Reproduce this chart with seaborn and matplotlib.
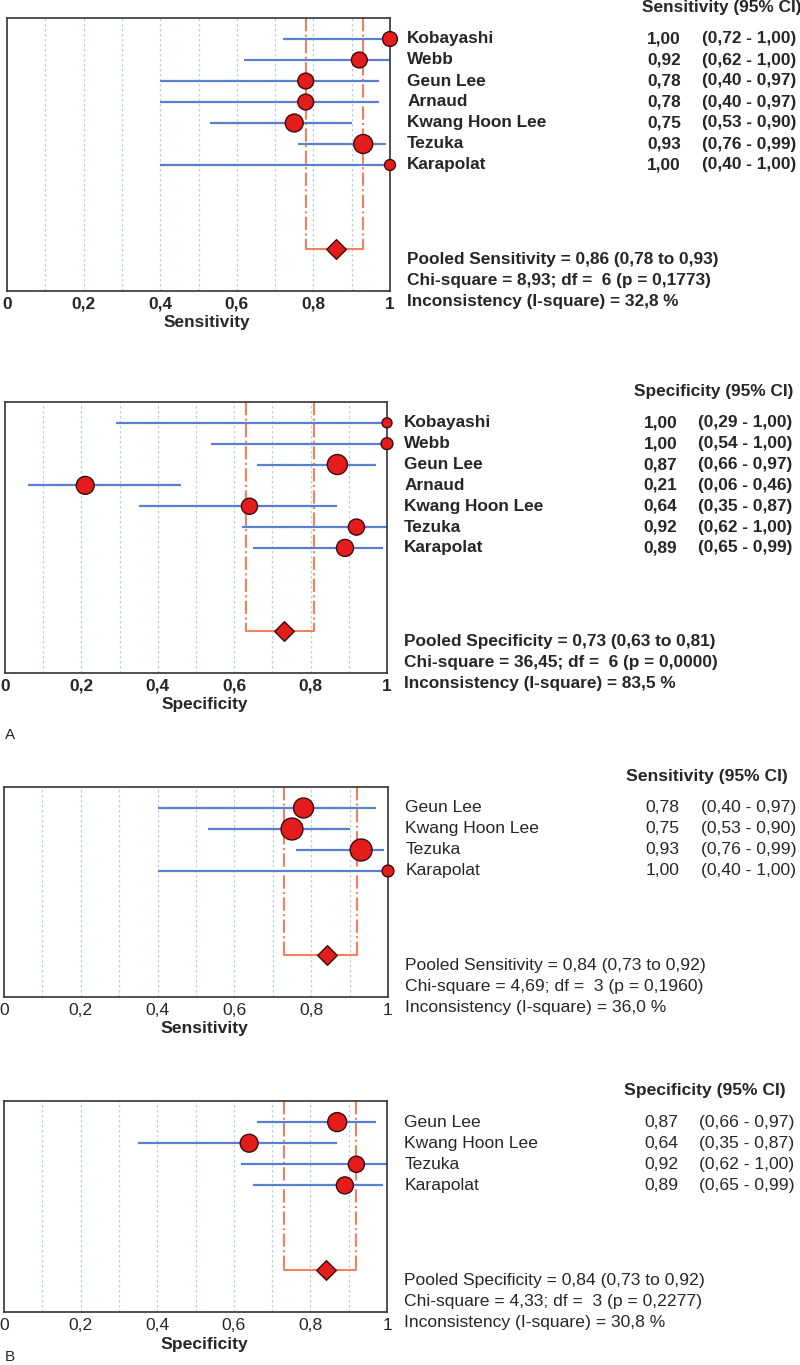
import numpy as np
import pandas as pd
import matplotlib.pyplot as plt
import matplotlib.transforms as mtransforms
import seaborn as sns

# data
studies_a = ["Kobayashi", "Webb", "Geun Lee", "Arnaud", "Kwang Hoon Lee", "Tezuka", "Karapolat"]
studies_b = ["Geun Lee", "Kwang Hoon Lee", "Tezuka", "Karapolat"]

sens_a = [1.00, 0.92, 0.78, 0.78, 0.75, 0.93, 1.00]
sens_a_lo = [0.72, 0.62, 0.40, 0.40, 0.53, 0.76, 0.40]
sens_a_hi = [1.00, 1.00, 0.97, 0.97, 0.90, 0.99, 1.00]
sens_a_w = [22, 25, 25, 25, 32, 36, 12]
sens_a_pool = [0.86, 0.78, 0.93]
sens_a_stats = ["Pooled Sensitivity = 0,86 (0,78 to 0,93)",
                "Chi-square = 8,93; df =  6 (p = 0,1773)",
                "Inconsistency (I-square) = 32,8 %"]

spec_a = [1.00, 1.00, 0.87, 0.21, 0.64, 0.92, 0.89]
spec_a_lo = [0.29, 0.54, 0.66, 0.06, 0.35, 0.62, 0.65]
spec_a_hi = [1.00, 1.00, 0.97, 0.46, 0.87, 1.00, 0.99]
spec_a_w = [10, 14, 40, 32, 26, 26, 29]
spec_a_pool = [0.73, 0.63, 0.81]
spec_a_stats = ["Pooled Specificity = 0,73 (0,63 to 0,81)",
                "Chi-square = 36,45; df =  6 (p = 0,0000)",
                "Inconsistency (I-square) = 83,5 %"]

sens_b = [0.78, 0.75, 0.93, 1.00]
sens_b_lo = [0.40, 0.53, 0.76, 0.40]
sens_b_hi = [0.97, 0.90, 0.99, 1.00]
sens_b_w = [40, 48, 48, 14]
sens_b_pool = [0.84, 0.73, 0.92]
sens_b_stats = ["Pooled Sensitivity = 0,84 (0,73 to 0,92)",
                "Chi-square = 4,69; df =  3 (p = 0,1960)",
                "Inconsistency (I-square) = 36,0 %"]

spec_b = [0.87, 0.64, 0.92, 0.89]
spec_b_lo = [0.66, 0.35, 0.62, 0.65]
spec_b_hi = [0.97, 0.87, 1.00, 0.99]
spec_b_w = [36, 32, 26, 29]
spec_b_pool = [0.84, 0.73, 0.92]
spec_b_stats = ["Pooled Specificity = 0,84 (0,73 to 0,92)",
                "Chi-square = 4,33; df =  3 (p = 0,2277)",
                "Inconsistency (I-square) = 30,8 %"]

xticks = [0, 0.2, 0.4, 0.6, 0.8, 1.0]
xtick_labels = ["0", "0,2", "0,4", "0,6", "0,8", "1"]

sns.set_style("white")
plt.rcParams['font.family'] = ['Liberation Sans', 'DejaVu Sans']

RED = "#e41c1c"
BLUE = "#5b7fd0"
ORANGE = "#f4805c"
GRID = "#b3d0ea"


def fmt(v):
    return f"{v:.2f}".replace(".", ",")


def forest(ax, names, est, lo, hi, w, pool, stats, header, xlabel, bold, fs, hdr_x):
    n = len(names)
    df = pd.DataFrame({"study": names, "est": est, "lo": lo, "hi": hi, "w": w,
                       "row": np.arange(n)})
    weight = "bold" if bold else "normal"
    diamond_row = n + 3

    for g in np.arange(0.1, 1.0, 0.1):
        ax.axvline(g, color=GRID, lw=0.9, ls=(0, (2, 2)), zorder=0)

    ax.hlines(df["row"], df["lo"], df["hi"], color=BLUE, lw=1.6, zorder=2)

    # pooled CI bracket
    ax.plot([pool[1], pool[1]], [-1, diamond_row], color=ORANGE, lw=1.5, ls="-.", zorder=1)
    ax.plot([pool[2], pool[2]], [-1, diamond_row], color=ORANGE, lw=1.5, ls="-.", zorder=1)
    ax.plot([pool[1], pool[2]], [diamond_row, diamond_row], color=ORANGE, lw=1.5, zorder=1)

    sns.scatterplot(data=df, x="est", y="row", size="w", sizes=(0, 520), size_norm=(0, 100),
                    color=RED, edgecolor="#3a0c0c", linewidth=1.0, legend=False,
                    clip_on=False, zorder=4, ax=ax)
    sns.scatterplot(x=[pool[0]], y=[diamond_row], marker="D", s=100, color=RED,
                    edgecolor="#3a0c0c", linewidth=1.0, zorder=4, ax=ax)

    ax.set_xlim(0, 1)
    ax.set_ylim(n + 5, -1)
    ax.set_yticks([])
    ax.set_xticks(xticks)
    ax.set_xticklabels(xtick_labels, fontsize=fs, fontweight=weight)
    ax.tick_params(axis="x", length=0, pad=4)
    ax.set_xlabel(xlabel, fontsize=fs, fontweight="bold")
    ax.set_ylabel("")
    for sp in ax.spines.values():
        sp.set_color("#333333")
        sp.set_linewidth(1.2)

    tr = mtransforms.blended_transform_factory(ax.transAxes, ax.transData)
    ax.text(hdr_x, -1.5, header, transform=tr, ha="right", va="center",
            fontsize=fs, fontweight="bold")
    for i in range(n):
        ax.text(1.045, i, names[i], transform=tr, ha="left", va="center",
                fontsize=fs, fontweight=weight)
        ax.text(1.76, i, fmt(est[i]), transform=tr, ha="right", va="center",
                fontsize=fs, fontweight=weight)
        ax.text(1.815, i, f"({fmt(lo[i])} - {fmt(hi[i])})", transform=tr, ha="left",
                va="center", fontsize=fs, fontweight=weight)
    for j, line in enumerate(stats):
        ax.text(1.045, n + 3.5 + j, line, transform=tr, ha="left", va="center",
                fontsize=fs, fontweight=weight)


W, H = 800, 1365
fig = plt.figure(figsize=(W / 100, H / 100), dpi=100)


def add_axes(left, right, top, bottom):
    return fig.add_axes([left / W, 1 - bottom / H, (right - left) / W, (bottom - top) / H])


ax1 = add_axes(7, 390, 18, 291)
ax2 = add_axes(5, 387, 402, 673)
ax3 = add_axes(4, 388, 787, 997)
ax4 = add_axes(4, 387, 1101, 1312)

forest(ax1, studies_a, sens_a, sens_a_lo, sens_a_hi, sens_a_w, sens_a_pool, sens_a_stats,
       "Sensitivity (95% CI)", "Sensitivity", True, 12.4, 2.075)
forest(ax2, studies_a, spec_a, spec_a_lo, spec_a_hi, spec_a_w, spec_a_pool, spec_a_stats,
       "Specificity (95% CI)", "Specificity", True, 12.4, 2.063)
forest(ax3, studies_b, sens_b, sens_b_lo, sens_b_hi, sens_b_w, sens_b_pool, sens_b_stats,
       "Sensitivity (95% CI)", "Sensitivity", False, 12.6, 2.04)
forest(ax4, studies_b, spec_b, spec_b_lo, spec_b_hi, spec_b_w, spec_b_pool, spec_b_stats,
       "Specificity (95% CI)", "Specificity", False, 12.6, 2.04)

# x-label position: ~32 px below each box
for ax in (ax1, ax2, ax3, ax4):
    h = ax.get_position().height * H
    ax.xaxis.set_label_coords(0.522, -32 / h)
    ax.xaxis.label.set_va("center")

fig.text(5 / W, 1 - 735 / H, "A", fontsize=11, ha="left", va="center")
fig.text(5 / W, 1 - 1357 / H, "B", fontsize=11, ha="left", va="center")

fig.savefig("out.png", dpi=100)
